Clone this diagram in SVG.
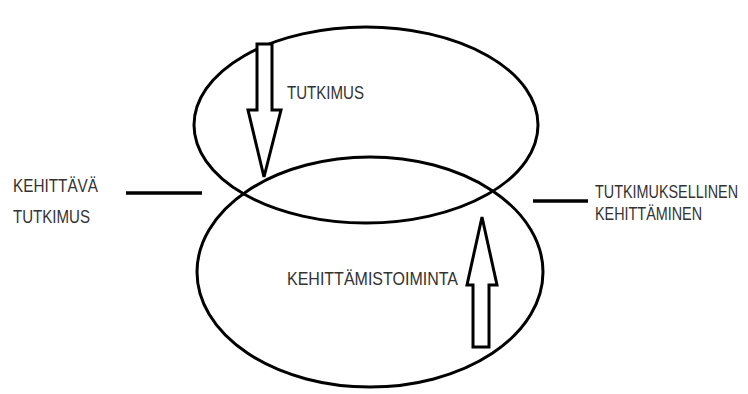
<svg xmlns="http://www.w3.org/2000/svg" width="748" height="394" viewBox="0 0 748 394">
<style>
.shape{fill:none;stroke:#000;stroke-width:3}
.arrow{fill:#fff;stroke:#000;stroke-width:3;stroke-linejoin:miter}
.line{stroke:#000;stroke-width:3.5}
text{font-family:"Liberation Sans",Arial,sans-serif;font-size:18px;fill:#333}
</style>
<rect width="748" height="394" fill="#fff"/>
<g id="tutkimus">
<ellipse class="shape" cx="366" cy="125" rx="172" ry="98"/>
<text x="287" y="99" textLength="77" lengthAdjust="spacingAndGlyphs">TUTKIMUS</text>
</g>
<g id="kehittamistoiminta">
<ellipse class="shape" cx="370" cy="272" rx="173" ry="115"/>
<text x="287" y="285" textLength="171" lengthAdjust="spacingAndGlyphs">KEHITTÄMISTOIMINTA</text>
</g>
<g id="kehittava-tutkimus">
<text x="13" y="192" textLength="85" lengthAdjust="spacingAndGlyphs">KEHITTÄVÄ</text>
<text x="13" y="223" textLength="77" lengthAdjust="spacingAndGlyphs">TUTKIMUS</text>
</g>
<g id="tutkimuksellinen-kehittaminen">
<text transform="translate(595,198) scale(0.8,1)">TUTKIMUKSELLINEN</text>
<text transform="translate(595,220) scale(0.8,1)">KEHITTÄMINEN</text>
</g>
<g id="connectors">
<line class="line" x1="126" y1="193" x2="202" y2="193"/>
<line class="line" x1="533" y1="201" x2="588" y2="201"/>
<polygon class="arrow" points="257,44 272,44 272,110 281,110 264,177 248,110 257,110"/>
<polygon class="arrow" points="482,217 497,285 489,285 489,347 473,347 473,285 467,285"/>
</g>
</svg>
